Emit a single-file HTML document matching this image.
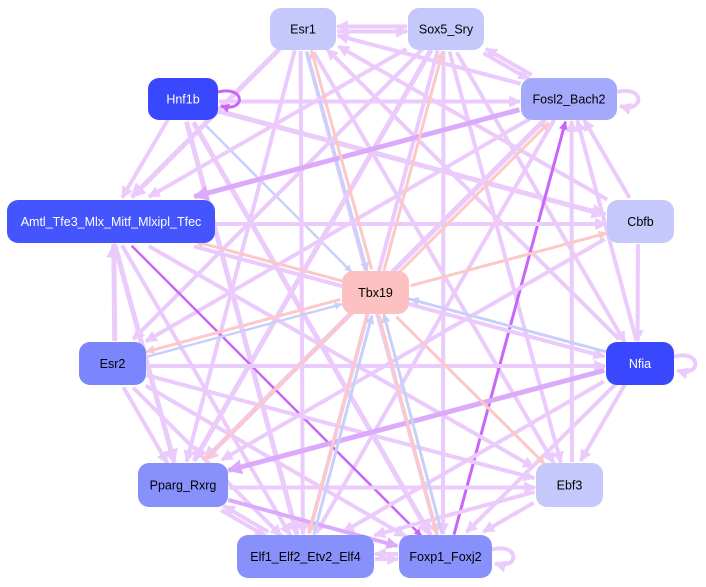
<!DOCTYPE html>
<html><head><meta charset="utf-8">
<style>
html,body{margin:0;padding:0;background:#fff;}
svg{display:block;font-family:"Liberation Sans",Arial,sans-serif;}
</style></head>
<body>
<svg id="s" width="706" height="587" xmlns="http://www.w3.org/2000/svg">
<defs></defs>
<g id="edges"></g>
<g id="nodes"></g>
</svg>
<script>
const N={
Esr1:[270,8,66,42,'#c5c8fb','#000'],
Sox5_Sry:[408,8,76,42,'#c5c8fb','#000'],
Hnf1b:[148,78,70,42,'#3a48fd','#fff'],
Fosl2_Bach2:[521,78,96,42,'#a5a9fb','#000'],
Amtl_Tfe3_Mlx_Mitf_Mlxipl_Tfec:[7,200,208,43,'#4455fd','#fff'],
Cbfb:[607,200,67,43,'#c5c8fb','#000'],
Tbx19:[342,271,67,43,'#fdc1c1','#000'],
Esr2:[79,342,67,43,'#7b86fc','#000'],
Nfia:[606,342,68,43,'#3a48fd','#fff'],
Pparg_Rxrg:[138,463,90,44,'#8890fc','#000'],
Ebf3:[536,463,67,44,'#c5c8fb','#000'],
Elf1_Elf2_Etv2_Elf4:[237,535,137,43,'#8890fc','#000'],
Foxp1_Foxj2:[399,535,93,43,'#8890fc','#000']};
const A='Amtl_Tfe3_Mlx_Mitf_Mlxipl_Tfec',S='Sox5_Sry',F='Fosl2_Bach2',P='Pparg_Rxrg',E='Elf1_Elf2_Etv2_Elf4',X='Foxp1_Foxj2';
const C={L:'#ebcafc',M:'#dcaafa',D:'#c966f8',P:'#fcc8c8',B:'#c8d0fa'};
const E_=[
['Hnf1b',A,'L',4],['Hnf1b',F,'L',4],['Hnf1b','Cbfb','L',5],['Hnf1b','Tbx19','B',2.5],['Hnf1b',E,'L',5],['Hnf1b',X,'L',5],
['Esr1',S,'L',4],[S,'Esr1','L',4],['Esr1',A,'L',5],['Esr1',P,'L',4],['Esr1',E,'L',4],['Esr1',X,'L',4],['Esr1','Tbx19','B',3],['Esr1','Ebf3','L',4],
[F,'Esr1','L',4],['Cbfb','Esr1','L',4],['Nfia','Esr1','L',4],
[S,A,'L',4],[S,'Esr2','L',4],[S,P,'L',5],[S,E,'L',4],[S,X,'L',4],[S,F,'L',4],[F,S,'L',4],[S,'Nfia','L',4],[S,'Ebf3','L',4],
[F,A,'M',5],[F,'Esr2','L',4],[F,P,'L',5],[F,E,'L',4],[X,F,'D',3],['Cbfb',F,'L',4],['Nfia',F,'L',4],['Ebf3',F,'L',4],
[A,'Cbfb','L',4],[A,'Nfia','L',4],['Nfia',A,'M',2.5],[A,'Ebf3','L',4],[A,X,'D',2.5],[A,P,'L',5],[A,E,'L',4],['Esr2',A,'L',5],
['Cbfb','Nfia','L',4],['Cbfb',P,'L',4],
['Esr2','Nfia','L',4],['Esr2',P,'L',4],['Esr2','Ebf3','L',4],['Esr2',X,'L',4],['Esr2','Tbx19','B',2.5],['Esr2',E,'L',4],
['Nfia','Tbx19','B',3],['Nfia',P,'M',5],['Nfia',E,'L',4],['Nfia',X,'L',4],['Nfia','Ebf3','L',4],
[P,X,'M',4],[P,'Ebf3','L',4],[P,E,'L',4],[E,P,'L',4],
['Ebf3',X,'L',4],['Ebf3',E,'L',4],[E,X,'L',4],[X,E,'L',4],
[X,'Tbx19','B',3],[E,'Tbx19','B',3],
['Tbx19','Esr1','P',3],['Tbx19',S,'P',3],['Tbx19',F,'P',3],['Tbx19','Cbfb','P',3],['Tbx19',A,'P',3],['Tbx19','Esr2','P',3],
['Tbx19',P,'P',3],['Tbx19',E,'P',3],['Tbx19','Ebf3','P',3],['Tbx19',X,'P',3]];
const ns='http://www.w3.org/2000/svg',svg=document.getElementById('s'),defs=svg.querySelector('defs');
for(const k in C){const m=document.createElementNS(ns,'marker');m.setAttribute('id','m'+k);m.setAttribute('viewBox','0 0 10 10');m.setAttribute('refX','9');m.setAttribute('refY','5');m.setAttribute('markerWidth','3');m.setAttribute('markerHeight','3');m.setAttribute('orient','auto');
const p=document.createElementNS(ns,'path');p.setAttribute('d','M0,0L10,5L0,10z');p.setAttribute('fill',C[k]);m.appendChild(p);defs.appendChild(m);}
function ctr(n){const r=N[n];return[r[0]+r[2]/2,r[1]+r[3]/2];}
function clip(n,dx,dy){const r=N[n];const hw=r[2]/2+1,hh=r[3]/2+1;return Math.min(Math.abs(dx)>0?hw/Math.abs(dx):1e9,Math.abs(dy)>0?hh/Math.abs(dy):1e9);}
const eg=document.getElementById('edges');
E_.forEach(([a,b,c,w])=>{let [x1,y1]=ctr(a),[x2,y2]=ctr(b);
const dx=x2-x1,dy=y2-y1,L=Math.hypot(dx,dy);const ox=-dy/L*2.5,oy=dx/L*2.5;
const t1=clip(a,dx,dy),t2=clip(b,-dx,-dy);
const l=document.createElementNS(ns,'line');
l.setAttribute('x1',x1+dx*t1+ox);l.setAttribute('y1',y1+dy*t1+oy);l.setAttribute('x2',x2-dx*t2+ox);l.setAttribute('y2',y2-dy*t2+oy);
l.setAttribute('stroke',C[c]);l.setAttribute('stroke-width',w);l.setAttribute('marker-end','url(#m'+c+')');eg.appendChild(l);});
function loop(n,c,w){const r=N[n];const x=r[0]+r[2],y=r[1]+r[3]/2;const p=document.createElementNS(ns,'path');
p.setAttribute('d',`M${x},${y-7} C${x+28},${y-14} ${x+28},${y+14} ${x+3},${y+7}`);p.setAttribute('fill','none');p.setAttribute('stroke',C[c]);p.setAttribute('stroke-width',w);p.setAttribute('marker-end','url(#m'+c+')');eg.appendChild(p);}
loop('Hnf1b','D',3);loop(F,'L',4);loop('Nfia','L',4);loop(X,'L',4);
const ng=document.getElementById('nodes');
for(const n in N){const r=N[n];const g=document.createElementNS(ns,'rect');g.setAttribute('x',r[0]);g.setAttribute('y',r[1]);g.setAttribute('width',r[2]);g.setAttribute('height',r[3]);g.setAttribute('rx',11);g.setAttribute('fill',r[4]);ng.appendChild(g);
const t=document.createElementNS(ns,'text');t.setAttribute('x',r[0]+r[2]/2);t.setAttribute('y',r[1]+r[3]/2+4.5);t.setAttribute('text-anchor','middle');t.setAttribute('font-size','12.5');t.setAttribute('fill',r[5]);t.textContent=n;ng.appendChild(t);}
</script>
</body></html>
